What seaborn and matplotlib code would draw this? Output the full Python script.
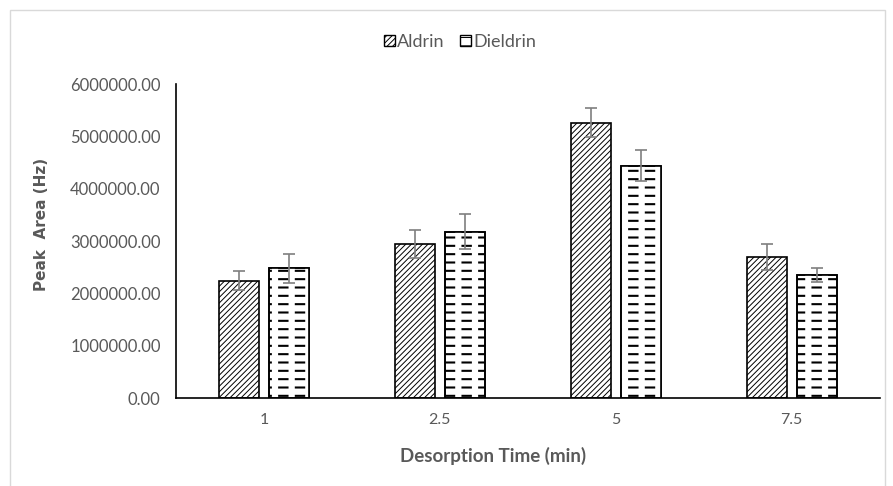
import numpy as np
import pandas as pd
import matplotlib
matplotlib.use("Agg")
import matplotlib.pyplot as plt
import seaborn as sns
from matplotlib.patches import Rectangle, Patch

# data
times = ["1", "2.5", "5", "7.5"]
aldrin = [2240000, 2940000, 5260000, 2690000]
dieldrin = [2480000, 3180000, 4440000, 2350000]
aldrin_err = [180000, 270000, 280000, 250000]
dieldrin_err = [280000, 340000, 300000, 130000]
yticks = [0, 1000000, 2000000, 3000000, 4000000, 5000000, 6000000]

df = pd.DataFrame({
    "time": times * 2,
    "compound": ["Aldrin"] * 4 + ["Dieldrin"] * 4,
    "area": aldrin + dieldrin,
})
errs = {"Aldrin": aldrin_err, "Dieldrin": dieldrin_err}

sns.set_style("white")
plt.rcParams["font.family"] = ["Lato", "DejaVu Sans"]
plt.rcParams["hatch.linewidth"] = 0.7
grey = "#595959"

fig = plt.figure(figsize=(8.93, 4.86), dpi=100)
ax = fig.add_axes([0.197, 0.181, 0.788, 0.646])

sns.barplot(data=df, x="time", y="area", hue="compound", order=times,
            hue_order=["Aldrin", "Dieldrin"], palette=["white", "white"],
            width=0.57, gap=0.2, errorbar=None, edgecolor="black",
            linewidth=1.2, legend=False, ax=ax)

hatches = {"Aldrin": "//////", "Dieldrin": "--"}
for name, cont in zip(["Aldrin", "Dieldrin"], ax.containers):
    xs, hs, ws = [], [], []
    for rect in cont:
        rect.set_hatch(hatches[name])
        if name == "Dieldrin" and hasattr(rect, "set_hatch_linewidth"):
            rect.set_hatch_linewidth(1.5)
        xs.append(rect.get_x() + rect.get_width() / 2)
        hs.append(rect.get_height())
        ws.append(rect.get_width())
    if name == "Dieldrin":
        # white vertical hatch cuts the lines into dashes
        over = ax.bar(xs, hs, width=ws, facecolor="none", edgecolor="white",
                      linewidth=0, hatch="|", zorder=cont[0].get_zorder() + 0.1)
        for r in over:
            if hasattr(r, "set_hatch_linewidth"):
                r.set_hatch_linewidth(4.5)
        ax.bar(xs, hs, width=ws, facecolor="none", edgecolor="black",
               linewidth=1.2, zorder=cont[0].get_zorder() + 0.2)
    ax.errorbar(xs, hs, yerr=errs[name], fmt="none", ecolor="#7f7f7f",
                elinewidth=1.2, capsize=4, capthick=1.2, zorder=5)

ax.set_ylim(0, 6000000)
ax.set_xlim(-0.5, 3.5)
ax.set_yticks(yticks)
ax.set_yticklabels([f"{v:.2f}" for v in yticks])
ax.set_xticks(range(len(times)))
ax.set_xticklabels(times)
ax.set_xticks(np.arange(-0.5, 4.0, 1.0), minor=True)
ax.tick_params(axis="x", which="major", length=0, pad=11, labelsize=11.5, labelcolor=grey)
ax.tick_params(axis="x", which="minor", length=5, width=1, color="black", direction="out")
ax.tick_params(axis="y", length=4, width=1, color="black", direction="out",
               labelsize=12, labelcolor=grey, pad=7)

for side in ["top", "right"]:
    ax.spines[side].set_visible(False)
for side in ["left", "bottom"]:
    ax.spines[side].set_color("black")
    ax.spines[side].set_linewidth(1.2)

ax.set_xlabel("Desorption Time (min)", fontsize=13.5, fontweight="bold", color=grey)
ax.xaxis.set_label_coords((493 - 176) / 704, -(456 - 398) / 314, transform=ax.transAxes)
ax.xaxis.label.set_va("center")
ax.set_ylabel("Peak  Area (Hz)", fontsize=11, fontweight="bold", color=grey,
              family=["DejaVu Sans"])
ax.yaxis.set_label_coords(-(176 - 42) / 704, (398 - 224) / 314, transform=ax.transAxes)
ax.yaxis.label.set_va("center")

handles = [Patch(facecolor="white", edgecolor="black", hatch="//////", label="Aldrin"),
           Patch(facecolor="white", edgecolor="black", hatch="--", label="Dieldrin")]
fig.legend(handles=handles, loc="center", bbox_to_anchor=(0.515, 0.914), ncol=2,
           frameon=False, fontsize=13, labelcolor=grey, handlelength=0.6,
           handleheight=0.6, handletextpad=0.1, columnspacing=0.9)

fig.add_artist(Rectangle((10 / 893, -0.01), 875 / 893, 1 - 10 / 486 + 0.01,
                         transform=fig.transFigure, fill=False,
                         edgecolor="#d9d9d9", linewidth=1))

fig.savefig("out.png", dpi=100)
